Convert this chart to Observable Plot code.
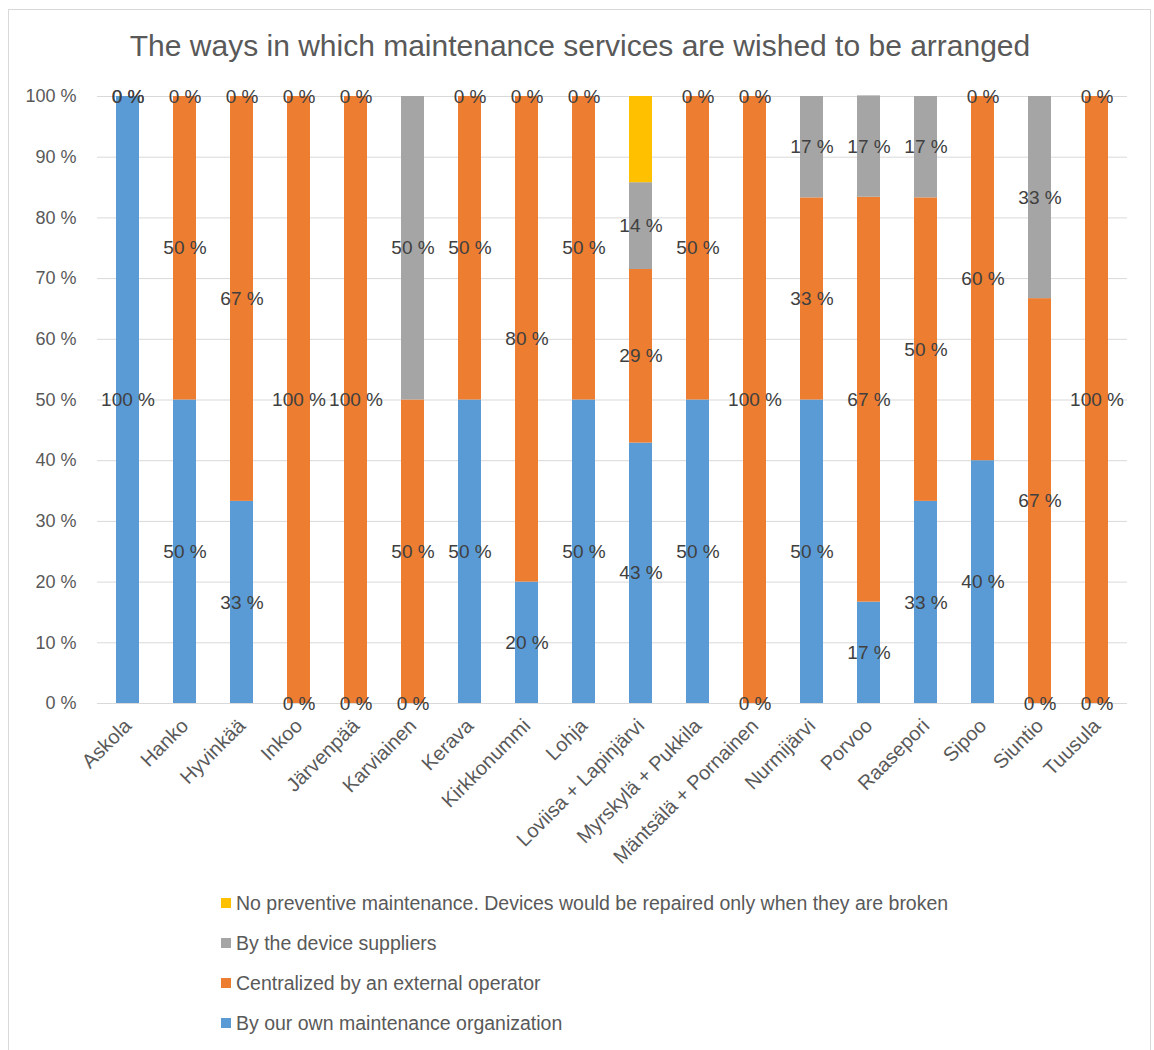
<!DOCTYPE html>
<html>
<head>
<meta charset="utf-8">
<script src="https://cdn.jsdelivr.net/npm/d3@7"></script>
<script src="https://cdn.jsdelivr.net/npm/@observablehq/plot@0.6"></script>
<style>
  html, body { margin: 0; padding: 0; background: #fff; }
  body { width: 1154px; height: 1050px; position: relative; overflow: hidden; font-family: "Liberation Sans", Arial, sans-serif; }
  #frame { position: absolute; left: 8px; top: 9px; width: 1143px; height: 1100px; border: 1px solid #d9d9d9; box-sizing: border-box; }
  #title { position: absolute; left: 0; width: 1160px; top: 29px; text-align: center; font-size: 30px; color: #595959; white-space: nowrap; }
  #chart { position: absolute; left: 0; top: 70px; }
  #legend { position: absolute; left: 221px; top: 892px; }
  .item { height: 40px; display: flex; align-items: flex-start; font-size: 19.5px; color: #595959; white-space: nowrap; }
  .sw { width: 10px; height: 10px; margin-right: 5px; margin-top: 6px; flex: none; }
</style>
</head>
<body>
<div id="frame"></div>
<div id="title">The ways in which maintenance services are wished to be arranged</div>
<div id="chart"></div>
<div id="legend"></div>
<script>
const categories = ["Askola", "Hanko", "Hyvinkää", "Inkoo", "Järvenpää", "Karviainen", "Kerava", "Kirkkonummi", "Lohja", "Loviisa + Lapinjärvi", "Myrskylä + Pukkila", "Mäntsälä + Pornainen", "Nurmijärvi", "Porvoo", "Raasepori", "Sipoo", "Siuntio", "Tuusula"];
const seriesNames = ["By our own maintenance organization", "Centralized by an external operator", "By the device suppliers", "No preventive maintenance. Devices would be repaired only when they are broken"];
const seriesColors = ["#5B9BD5", "#ED7D31", "#A5A5A5", "#FFC000"];
const ownOrg    = [1.000, 0.500, 0.333, 0, 0, 0, 0.500, 0.200, 0.500, 0.429, 0.500, 0, 0.500, 0.167, 0.333, 0.400, 0, 0];
const external  = [0, 0.500, 0.667, 1.000, 1.000, 0.500, 0.500, 0.800, 0.500, 0.286, 0.500, 1.000, 0.333, 0.667, 0.500, 0.600, 0.667, 1.000];
const suppliers = [0, 0, 0, 0, 0, 0.500, 0, 0, 0, 0.143, 0, 0, 0.167, 0.167, 0.167, 0, 0.333, 0];
const noPrevent = [null, null, null, null, null, null, null, null, null, 0.142, null, null, null, null, null, null, null, null];
const yTicks = [0, 0.1, 0.2, 0.3, 0.4, 0.5, 0.6, 0.7, 0.8, 0.9, 1.0];

const seriesValues = [ownOrg, external, suppliers, noPrevent];
const data = [];
seriesValues.forEach((vals, si) => {
  vals.forEach((v, ci) => {
    if (v !== null) data.push({cat: categories[ci], series: seriesNames[si], value: v, labeled: si < 3});
  });
});

const fmt = v => Math.round(v * 100) + " %";

const chart = Plot.plot({
  width: 1154,
  height: 803,
  marginLeft: 97,
  marginRight: 27,
  marginTop: 26,
  marginBottom: 170,
  style: {fontFamily: "'Liberation Sans', Arial, sans-serif", fontSize: "18px", color: "#595959", background: "transparent"},
  x: {domain: categories, paddingInner: 0.6, paddingOuter: 0.3, label: null},
  y: {domain: [0, 1], label: null},
  color: {domain: seriesNames, range: seriesColors},
  marks: [
    Plot.gridY(yTicks, {stroke: "#d9d9d9", strokeOpacity: 1}),
    Plot.axisY({ticks: yTicks, tickFormat: fmt, tickSize: 0, tickPadding: 21, fontSize: 18, fill: "#595959"}),
    Plot.axisX({tickRotate: -45, tickSize: 0, tickPadding: 19, fontSize: 20, fill: "#595959"}),
    Plot.barY(data, Plot.stackY({x: "cat", y: "value", fill: "series", order: seriesNames})),
    Plot.text(data, Plot.stackY({x: "cat", y: "value", z: "series", order: seriesNames, text: d => d.labeled ? fmt(d.value) : "", fill: "#404040", fontSize: 19}))
  ]
});
document.getElementById("chart").appendChild(chart);

const legend = document.getElementById("legend");
[3, 2, 1, 0].forEach(i => {
  const item = document.createElement("div");
  item.className = "item";
  const sw = document.createElement("span");
  sw.className = "sw";
  sw.style.background = seriesColors[i];
  const t = document.createElement("span");
  t.textContent = seriesNames[i];
  item.appendChild(sw);
  item.appendChild(t);
  legend.appendChild(item);
});
</script>
</body>
</html>
